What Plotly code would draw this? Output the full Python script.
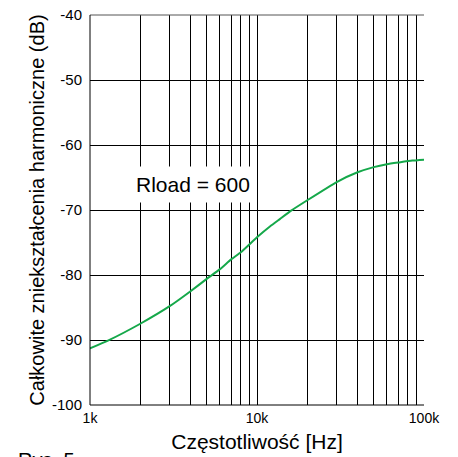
import plotly.graph_objects as go

freq_hz = [1000, 1280, 2000, 3000, 4000, 5000, 6000, 7000, 8000, 10000, 12000, 13700,
           16000, 20000, 30000, 40000, 50000, 60000, 70000, 85000, 100000]
thd_db = [-91.3, -90.1, -87.5, -84.8, -82.5, -80.6, -79.1, -77.6, -76.5, -74.2, -72.5, -71.4,
          -70.1, -68.5, -65.7, -64.2, -63.4, -62.95, -62.7, -62.4, -62.25]

y_ticks = [-40, -50, -60, -70, -80, -90, -100]
y_tick_labels = ["-40", "-50", "-60", "-70", "-80", "-90", "-100"]
x_grid = [1000, 2000, 3000, 4000, 5000, 6000, 7000, 8000, 9000,
          10000, 20000, 30000, 40000, 50000, 60000, 70000, 80000, 90000, 100000]
x_labels = {1000: "1k", 10000: "10k", 100000: "100k"}

FONT = "Liberation Sans, Arial, Helvetica, sans-serif"

fig = go.Figure()
fig.add_trace(go.Scatter(x=freq_hz, y=thd_db, mode="lines",
                         line=dict(color="#15a84a", width=2, shape="spline", smoothing=0.4),
                         showlegend=False, hoverinfo="skip"))

fig.add_annotation(x=3.615, y=-66.1, xref="x", yref="y", text="Rload = 600",
                   showarrow=False, font=dict(size=21, color="black", family=FONT),
                   bgcolor="white", borderpad=6)

fig.update_layout(
    width=458, height=457,
    margin=dict(l=90, r=34, t=15, b=52),
    paper_bgcolor="white", plot_bgcolor="white",
    font=dict(family=FONT, size=14, color="black"),
    xaxis=dict(type="log", range=[3, 5], tickvals=x_grid,
               ticktext=[x_labels.get(v, "") for v in x_grid],
               showgrid=True, gridcolor="black", gridwidth=1,
               showline=False, zeroline=False, ticks="", automargin=False,
               tickfont=dict(size=14), ticklabelstandoff=3,
               title=dict(text="Częstotliwość [Hz]", font=dict(size=21), standoff=9)),
    yaxis=dict(range=[-100, -40], tickvals=y_ticks, ticktext=y_tick_labels,
               showgrid=True, gridcolor="black", gridwidth=1,
               showline=False, zeroline=False, ticks="", automargin=False,
               tickfont=dict(size=15), ticklabelstandoff=7,
               title=dict(text="Całkowite zniekształcenia harmoniczne (dB)",
                          font=dict(size=20), standoff=1)),
)

fig.add_shape(type="line", xref="paper", yref="paper", x0=0, x1=1, y0=1, y1=1,
              line=dict(color="#555", width=1))
fig.add_shape(type="line", xref="paper", yref="paper", x0=0, x1=1, y0=0, y1=0,
              line=dict(color="black", width=1))
fig.add_shape(type="line", xref="paper", yref="paper", x0=0, x1=0, y0=0, y1=1,
              line=dict(color="black", width=1))

# partially visible figure caption at bottom-left (cut off in the original too)
fig.add_annotation(x=-0.222, y=-0.108, xref="paper", yref="paper", text="Rys. 5",
                   showarrow=False, xanchor="left", yanchor="top",
                   font=dict(size=20, color="black", family=FONT))

fig.write_html("out.html")
